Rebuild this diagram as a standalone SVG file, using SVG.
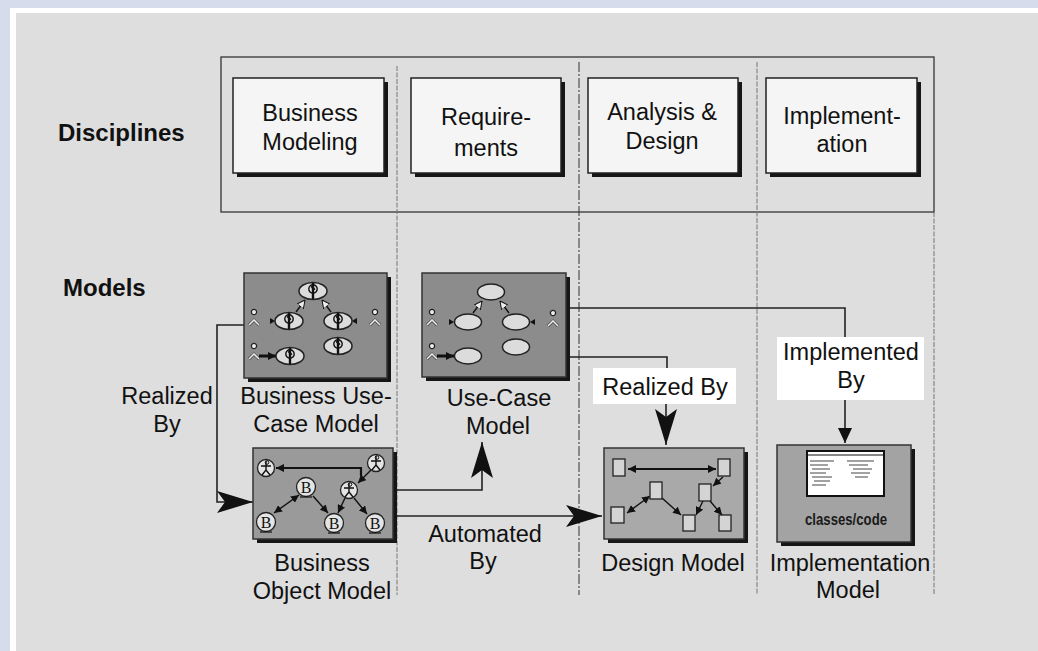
<svg xmlns="http://www.w3.org/2000/svg" width="1038" height="651" viewBox="0 0 1038 651">
  <style>
    .txt { font-family: "Liberation Sans", Arial, sans-serif; font-size: 23.5px; fill: #111; text-anchor: middle; }
    .head { font-family: "Liberation Sans", Arial, sans-serif; font-size: 24px; font-weight: bold; fill: #111; }
    .disc { fill: #f5f5f5; stroke: #222; stroke-width: 1.5; }
    .shadow { fill: #161616; }
    .model { stroke: #333; stroke-width: 1.5; }
    .lane { fill: none; stroke: #777; stroke-width: 1; stroke-dasharray: 5 1.5; }
    .lane2 { fill: none; stroke: #333; stroke-width: 1; stroke-dasharray: 10 2 2 2; }
    .conn { fill: none; stroke: #222; stroke-width: 1.6; }
    .uc { fill: #dcdcdc; stroke: #222; stroke-width: 1.5; }
    .ic { fill: none; stroke: #111; stroke-width: 1.4; }
    .actor { fill: #eee; stroke: #222; stroke-width: 1.3; }
    .caret { fill: none; stroke: #eee; stroke-width: 1.6; }
    .obj { fill: #e4e4e4; stroke: #222; stroke-width: 1.3; }
    .cls { fill: #d4d4d4; stroke: #222; stroke-width: 1.3; }
    .btxt { font-family: "Liberation Serif", "Times New Roman", serif; font-size: 16px; fill: #111; text-anchor: middle; }
    .label { fill: #fff; }
  </style>
  <defs>
    <marker id="bigArrow" markerUnits="userSpaceOnUse" viewBox="0 0 36 22" refX="36" refY="11" markerWidth="36" markerHeight="22" orient="auto">
      <path d="M0,0 L36,11 L0,22 L8,11 Z" fill="#111"/>
    </marker>
    <marker id="smallArrow" markerUnits="userSpaceOnUse" viewBox="0 0 15 14" refX="15" refY="7" markerWidth="15" markerHeight="14" orient="auto">
      <path d="M0,0 L15,7 L0,14 Z" fill="#111"/>
    </marker>
    <marker id="tinyArrow" markerUnits="userSpaceOnUse" viewBox="0 0 8 8" refX="8" refY="4" markerWidth="8" markerHeight="8" orient="auto">
      <path d="M0,0 L8,4 L0,8 Z" fill="#111"/>
    </marker>
    <marker id="tinyArrowStart" markerUnits="userSpaceOnUse" viewBox="0 0 8 8" refX="0" refY="4" markerWidth="8" markerHeight="8" orient="auto">
      <path d="M8,0 L0,4 L8,8 Z" fill="#111"/>
    </marker>
    <marker id="hollowTri" markerUnits="userSpaceOnUse" viewBox="0 0 8 8" refX="8" refY="4" markerWidth="8" markerHeight="8" orient="auto">
      <path d="M0,0 L8,4 L0,8 Z" fill="#eee" stroke="#111" stroke-width="1"/>
    </marker>
    <!-- small actor: head circle with a caret body -->
    <g id="actor">
      <circle cx="0" cy="0" r="2.6" class="actor"/>
      <path d="M-5,13 L0,8 L5,13" fill="none" stroke="#222" stroke-width="2.6"/>
      <path d="M-5,13 L0,8 L5,13" class="caret" stroke-width="1"/>
    </g>
    <!-- business use case: ellipse with a worker figure -->
    <g id="buc">
      <ellipse cx="0" cy="0" rx="14" ry="8.5" class="uc"/>
      <circle cx="0" cy="-2" r="4.2" fill="none" stroke="#111" stroke-width="1.4"/>
      <path d="M0,-8 V8 M-1.5,-5 L1.5,-1" stroke="#111" stroke-width="2.4" fill="none"/>
    </g>
    <!-- business worker: circle with a stick figure -->
    <g id="worker">
      <circle cx="0" cy="0" r="8.5" class="obj"/>
      <path d="M0,-7 V-4 M-5,-2 L5,-2 M0,-4 V2 L-4,7 M0,2 L4,7" class="ic" stroke-width="1.1"/>
      <circle cx="1" cy="-5.5" r="1.8" fill="none" stroke="#111" stroke-width="1"/>
    </g>
    <!-- business entity -->
    <g id="entity">
      <circle cx="0" cy="0" r="9.5" class="obj"/>
      <text x="0" y="6" class="btxt">B</text>
      <path d="M-6,10 H6" stroke="#111" stroke-width="1.2"/>
    </g>
  </defs>

  <!-- page backdrop -->
  <rect x="0" y="0" width="1038" height="651" fill="#d6dcec"/>
  <rect x="10" y="8" width="1028" height="643" fill="#ffffff"/>
  <rect x="16" y="13" width="1022" height="638" fill="#dedede"/>

  <!-- headings -->
  <text x="58" y="141" class="head">Disciplines</text>
  <text x="63" y="296" class="head">Models</text>

  <!-- discipline frame and lanes -->
  <g id="lanes">
    <rect x="221" y="57" width="713" height="155" fill="none" stroke="#333" stroke-width="1.3"/>
    <path d="M397,66 V595" class="lane"/>
    <path d="M579,62 V595" class="lane2"/>
    <path d="M757,62 V595" class="lane"/>
    <path d="M934,212 V595" class="lane" stroke="#444"/>
  </g>

  <!-- disciplines -->
  <g id="business-modeling">
    <rect x="237" y="82" width="151" height="95" class="shadow"/>
    <rect x="233" y="78" width="151" height="95" class="disc"/>
    <text x="310" y="121" class="txt">Business</text>
    <text x="310" y="150" class="txt">Modeling</text>
  </g>
  <g id="requirements">
    <rect x="415" y="82" width="150" height="95" class="shadow"/>
    <rect x="411" y="78" width="150" height="95" class="disc"/>
    <text x="486" y="125" class="txt">Require-</text>
    <text x="486" y="156" class="txt">ments</text>
  </g>
  <g id="analysis-design">
    <rect x="592" y="82" width="150" height="95" class="shadow"/>
    <rect x="588" y="78" width="150" height="95" class="disc"/>
    <text x="662" y="120" class="txt">Analysis &amp;</text>
    <text x="662" y="149" class="txt">Design</text>
  </g>
  <g id="implementation">
    <rect x="770" y="82" width="151" height="95" class="shadow"/>
    <rect x="766" y="78" width="151" height="95" class="disc"/>
    <text x="842" y="124" class="txt">Implement-</text>
    <text x="842" y="152" class="txt">ation</text>
  </g>

  <!-- connectors -->
  <g id="connectors">
    <path d="M244,325 H217 V502 H253" class="conn" stroke="#555" stroke-width="1.4" marker-end="url(#bigArrow)"/>
    <path d="M393,490 H482 V442" class="conn" marker-end="url(#bigArrow)"/>
    <path d="M393,516 H602" class="conn" marker-end="url(#bigArrow)"/>
    <path d="M566,357 H667 V368" class="conn"/>
    <path d="M666,404 V445" class="conn" marker-end="url(#bigArrow)"/>
    <path d="M566,308 H845 V337" class="conn"/>
    <path d="M845,400 V443" class="conn" marker-end="url(#smallArrow)"/>
  </g>

  <!-- connector labels -->
  <text x="167" y="404" class="txt">Realized</text>
  <text x="167" y="432" class="txt">By</text>
  <text x="485" y="542" class="txt">Automated</text>
  <text x="483" y="569" class="txt">By</text>
  <rect x="593" y="368" width="143" height="36" class="label"/>
  <text x="665" y="395" class="txt">Realized By</text>
  <rect x="777" y="337" width="147" height="63" class="label"/>
  <text x="851" y="360" class="txt">Implemented</text>
  <text x="851" y="388" class="txt">By</text>

  <!-- Business Use-Case Model -->
  <g id="business-use-case-model">
    <rect x="248" y="277" width="143" height="105" class="shadow"/>
    <rect x="244" y="273" width="143" height="105" fill="#8c8c8c" class="model"/>
    <use href="#actor" x="254" y="312"/>
    <use href="#actor" x="254" y="346"/>
    <use href="#actor" x="375" y="312"/>
    <path d="M296,312 L305,300" class="ic" marker-end="url(#hollowTri)"/>
    <path d="M331,312 L322,300" class="ic" marker-end="url(#hollowTri)"/>
    <path d="M259,356 H276" stroke="#111" stroke-width="3" marker-end="url(#tinyArrow)"/>
    <path d="M270,318 L275,321 L270,324 Z" fill="#111"/>
    <path d="M357,318 L352,321 L357,324 Z" fill="#111"/>
    <use href="#buc" x="313" y="291"/>
    <use href="#buc" x="289" y="321"/>
    <use href="#buc" x="338" y="321"/>
    <use href="#buc" x="338" y="346"/>
    <use href="#buc" x="290" y="356"/>
    <text x="316" y="404" class="txt">Business Use-</text>
    <text x="316" y="432" class="txt">Case Model</text>
  </g>

  <!-- Use-Case Model -->
  <g id="use-case-model">
    <rect x="426" y="277" width="144" height="104" class="shadow"/>
    <rect x="422" y="273" width="144" height="104" fill="#8c8c8c" class="model"/>
    <use href="#actor" x="432" y="312"/>
    <use href="#actor" x="432" y="346"/>
    <use href="#actor" x="553" y="313"/>
    <path d="M473,313 L482,301" class="ic" marker-end="url(#hollowTri)"/>
    <path d="M509,313 L500,301" class="ic" marker-end="url(#hollowTri)"/>
    <path d="M437,356 H454" stroke="#111" stroke-width="3" marker-end="url(#tinyArrow)"/>
    <path d="M449,319 L454,322 L449,325 Z" fill="#111"/>
    <path d="M535,319 L530,322 L535,325 Z" fill="#111"/>
    <ellipse cx="491" cy="292" rx="13.5" ry="8" class="uc"/>
    <ellipse cx="468" cy="322" rx="13.5" ry="8" class="uc"/>
    <ellipse cx="516" cy="322" rx="13.5" ry="8" class="uc"/>
    <ellipse cx="516" cy="347" rx="13.5" ry="8" class="uc"/>
    <ellipse cx="468" cy="356" rx="13.5" ry="8" class="uc"/>
    <text x="499" y="406" class="txt">Use-Case</text>
    <text x="498" y="434" class="txt">Model</text>
  </g>

  <!-- Business Object Model -->
  <g id="business-object-model">
    <rect x="257" y="452" width="140" height="91" class="shadow"/>
    <rect x="253" y="448" width="140" height="91" fill="#9a9a9a" class="model"/>
    <path d="M276,468 H361 V476" stroke="#111" stroke-width="2.2" fill="none" marker-start="url(#tinyArrowStart)"/>
    <path d="M299,495 L274,513" class="ic" marker-start="url(#tinyArrowStart)" marker-end="url(#tinyArrow)"/>
    <path d="M313,496 L328,513" class="ic" marker-end="url(#tinyArrow)"/>
    <path d="M345,498 L338,513" class="ic" marker-end="url(#tinyArrow)"/>
    <path d="M354,498 L367,514" class="ic" marker-end="url(#tinyArrow)"/>
    <path d="M371,470 L358,483" class="ic" marker-end="url(#tinyArrow)"/>
    <use href="#worker" x="266" y="468"/>
    <use href="#worker" x="376" y="463"/>
    <use href="#worker" x="349" y="490"/>
    <use href="#entity" x="306" y="487"/>
    <use href="#entity" x="266" y="522"/>
    <use href="#entity" x="334" y="523"/>
    <use href="#entity" x="375" y="523"/>
    <text x="322" y="571" class="txt">Business</text>
    <text x="322" y="599" class="txt">Object Model</text>
  </g>

  <!-- Design Model -->
  <g id="design-model">
    <rect x="608" y="452" width="140" height="91" class="shadow"/>
    <rect x="604" y="448" width="140" height="91" fill="#a9a9a9" class="model"/>
    <path d="M628,469 H716" stroke="#111" stroke-width="2" marker-start="url(#tinyArrowStart)" marker-end="url(#tinyArrow)"/>
    <path d="M650,496 L627,513" class="ic" marker-start="url(#tinyArrowStart)" marker-end="url(#tinyArrow)"/>
    <path d="M662,498 L681,515" class="ic" marker-end="url(#tinyArrow)"/>
    <path d="M703,501 L696,515" class="ic" marker-end="url(#tinyArrow)"/>
    <path d="M710,501 L722,515" class="ic" marker-end="url(#tinyArrow)"/>
    <path d="M723,477 L713,486" class="ic" marker-end="url(#tinyArrow)"/>
    <rect x="613" y="459" width="12" height="17" class="cls"/>
    <rect x="718" y="459" width="12" height="17" class="cls"/>
    <rect x="650" y="482" width="12" height="17" class="cls"/>
    <rect x="699" y="484" width="12" height="17" class="cls"/>
    <rect x="611" y="507" width="13" height="16" class="cls"/>
    <rect x="683" y="515" width="12" height="16" class="cls"/>
    <rect x="719" y="515" width="12" height="16" class="cls"/>
    <text x="673" y="571" class="txt">Design Model</text>
  </g>

  <!-- Implementation Model -->
  <g id="implementation-model">
    <rect x="781" y="449" width="134" height="97" class="shadow"/>
    <rect x="777" y="445" width="134" height="97" fill="#a3a3a3" class="model"/>
    <rect x="807" y="451" width="77" height="45" fill="#fff" stroke="#111" stroke-width="2"/>
    <path d="M807,455 H884" stroke="#111" stroke-width="1"/>
    <g stroke="#444" stroke-width="1">
      <path d="M810,461 H834 M810,465 H828 M812,469 H830 M810,473 H826 M812,477 H832 M814,481 H830 M812,485 H826"/>
      <path d="M847,461 H874 M849,465 H868 M853,469 H872 M851,473 H870 M855,477 H868"/>
    </g>
    <text x="846" y="525" font-family="Liberation Sans, Arial, sans-serif" font-size="17" font-weight="bold" fill="#1a1a1a" text-anchor="middle" textLength="82" lengthAdjust="spacingAndGlyphs">classes/code</text>
    <text x="850" y="571" class="txt">Implementation</text>
    <text x="848" y="598" class="txt">Model</text>
  </g>
</svg>
